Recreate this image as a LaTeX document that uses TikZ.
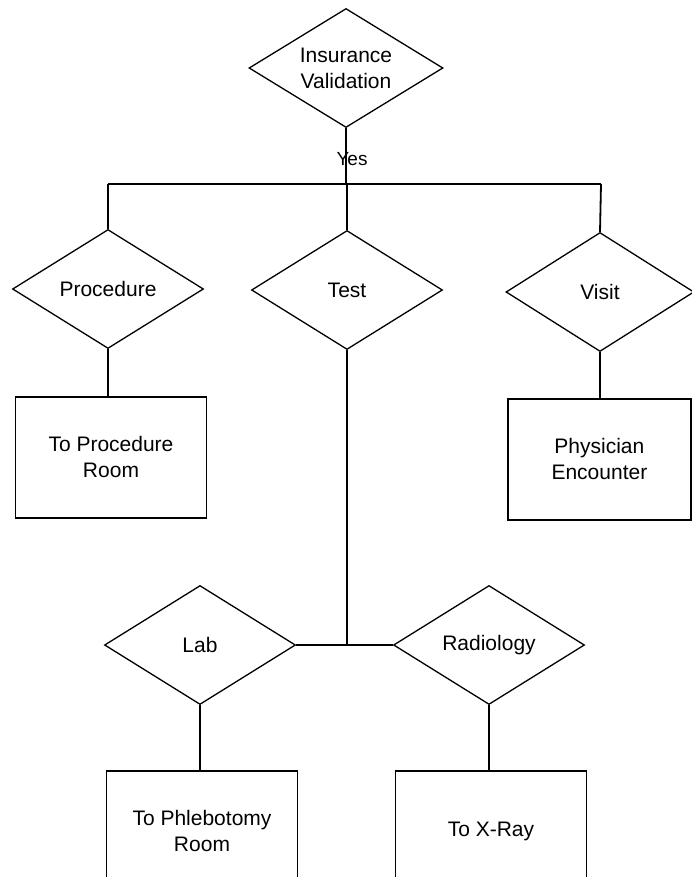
\documentclass[tikz,border=0pt]{standalone}
\usepackage{fontspec}
\setmainfont{Liberation Sans}
\usetikzlibrary{shapes.geometric}

\begin{document}
\begin{tikzpicture}[x=1pt, y=-1pt,
        decision/.style={diamond, draw=black, line width=1.3pt, aspect=1.6, inner sep=0pt, minimum width=191pt, minimum height=119pt, align=center, font=\fontsize{21}{26}\selectfont},
        station/.style={rectangle, draw=black, line width=1.8pt, minimum width=191pt, minimum height=121pt, align=center, font=\fontsize{21}{26}\selectfont},
        link/.style={draw=black, line width=1.8pt}
    ]
        \useasboundingbox (0,0) rectangle (692,877);
        \clip (0,0) rectangle (692,877);

        % decisions
        \node[decision, minimum width=194pt] (insval) at (346,68) {Insurance\\Validation};
        \node[decision] (procdec) at (108,289) {Procedure};
        \node[decision] (testdec) at (347,290) {Test};
        \node[decision, minimum width=188pt] (visitdec) at (600,292) {Visit};
        \node[decision] (labdec) at (200,645) {Lab};
        \node[decision] (raddec) at (489,645) {Radiology};

        % destinations
        \node[station, anchor=north] (procbox) at (111,396) {To Procedure\\Room};
        \node[station, anchor=north west, minimum width=183pt] (physbox) at (507,398) {Physician\\Encounter};
        \node[station, anchor=north] (phlebbox) at (202,770) {To Phlebotomy\\Room};
        \node[station, anchor=north] (xraybox) at (491,770) {To X-Ray};

        % branch after validation
        \coordinate (brleft) at (108,184);
        \coordinate (brright) at (601,184);
        \draw[link] (brleft) -- (brright);
        \draw[link] (insval.south) -- node[inner sep=0pt, font=\fontsize{19}{22}\selectfont, xshift=6pt, yshift=-3pt] (yeslbl) {Yes} (insval.south |- brleft);
        \draw[link] (brleft) -- (procdec.north);
        \draw[link] (testdec.north |- brleft) -- (testdec.north);
        \draw[link] (brright) -- (visitdec.north);

        \draw[link] (procdec.south) -- (procdec.south |- procbox.north);
        \draw[link] (visitdec.south) -- (visitdec.south |- physbox.north);

        % test splits into lab and radiology
        \draw[link] (testdec.south) -- (testdec.south |- labdec.east);
        \draw[link] (labdec.east) -- (raddec.west);
        \draw[link] (labdec.south) -- (labdec.south |- phlebbox.north);
        \draw[link] (raddec.south) -- (raddec.south |- xraybox.north);
    \end{tikzpicture}
\end{document}
